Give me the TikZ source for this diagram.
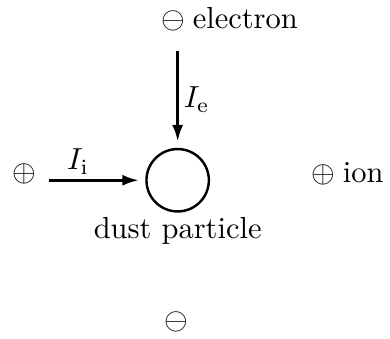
\documentclass[tikz,border=0pt]{standalone}
\usetikzlibrary{arrows.meta,positioning}

\begin{document}
\begin{tikzpicture}[
    x=1cm,y=1cm,>=Latex,
    tag/.style={inner sep=1.5pt},
    flux/.style={-{Latex[length=5.5pt,width=3.6pt]},line width=1pt,shorten >=2pt}
  ]
  \useasboundingbox (-2.05,-1.83) rectangle (2.45,2.08);
  \node[circle,draw,thick,minimum size=0.72cm,inner sep=0pt] (dust) at (0,0) {};
  \node[below=-2pt of dust] (dustname) {dust particle};
  \node (elec) at (0.60,1.86) {$\ominus$\hspace{2.5pt}electron};
  \node (ion) at (1.96,0.075) {$\oplus$\hspace{2.5pt}ion};
  \node (plus) at (-1.765,0.075) {$\oplus$};
  \node (minus) at (-0.01,-1.63) {$\ominus$};
  \coordinate (etail) at (0,1.49);
  \coordinate (itail) at (-1.48,0);
  \draw[flux] (etail) -- node[right,tag] {$I_\mathrm{e}$} (dust.north);
  \draw[flux] (itail) -- node[above,tag,pos=0.3] {$I_\mathrm{i}$} (dust.west);
\end{tikzpicture}
\end{document}
